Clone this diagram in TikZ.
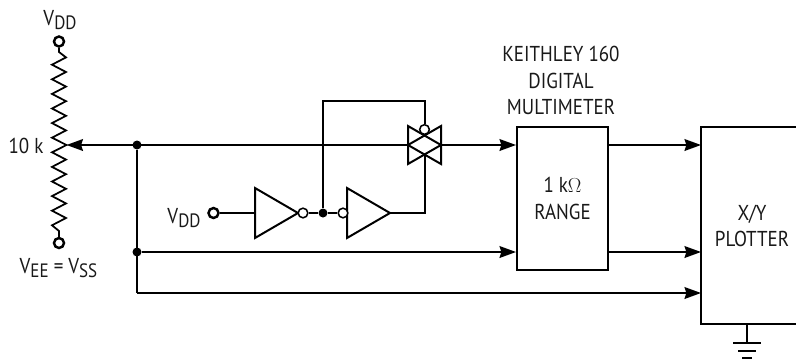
\documentclass[tikz,border=0pt]{standalone}
\usepackage{fontspec}
\setmainfont[FakeStretch=0.88]{PT Sans}
\usetikzlibrary{arrows.meta}
\newcommand{\subtxt}[1]{\raisebox{-0.32ex}{\fontsize{16.5}{17}\selectfont #1}}
\tikzset{
  wire/.style={line width=1.7pt},
  flow/.style={wire,-{Stealth[length=14pt,width=10pt,inset=1.5pt]}},
  label/.style={font=\fontsize{18.4}{22.6}\selectfont,text=black!90,inner sep=0pt,align=center},
  bubble/.style={circle,draw,line width=1.3pt,fill=white,inner sep=0pt,minimum size=0.29cm},
  terminal/.style={circle,draw,line width=2.1pt,fill=white,inner sep=0pt,minimum size=0.3cm},
  joint/.style={circle,fill=black,inner sep=0pt,minimum size=0.27cm},
  block/.style={draw,line width=1.7pt,inner sep=0pt,align=center,font=\fontsize{18.4}{22.6}\selectfont,text=black!90}
}
\begin{document}
\begin{tikzpicture}[x=0.03cm,y=-0.03cm,line join=miter]
\useasboundingbox (0,0) rectangle (796,360);
% potentiometer
\node [terminal] (vddtop) at (59,41.5) {};
\node [terminal] (vss) at (59,243) {};
\coordinate (wiper) at (66.5,145);
\draw [line width=1.5pt] (vddtop) -- (59,52) -- (66,57.4) -- (52,64.7) -- (66,72) -- (52,79.3) -- (66,86.6) -- (52,93.9) -- (66,101.2) -- (52,108.5) -- (66,115.8) -- (52,123.1) -- (66,130.4) -- (52,137.7) -- (wiper) -- (52,152.3) -- (66,159.6) -- (52,166.9) -- (66,174.2) -- (52,181.5) -- (66,188.8) -- (52,196.1) -- (66,203.4) -- (52,210.7) -- (66,218) -- (52,225.3) -- (59,231) -- (vss);
\node [label] (vddlabel) at (60,20) {V\subtxt{DD}};
\node [label] (vsslabel) at (58.5,268) {V\subtxt{EE} = V\subtxt{SS}};
\node [label] (potlabel) at (26,146) {10 k};
% junctions on the left
\node [joint] (topjoint) at (137,145) {};
\node [joint] (midjoint) at (137,252) {};
\coordinate (lowcorner) at (137,293);
% instruments
\node [block,minimum width=2.73cm,minimum height=4.29cm] (meter) at (562.5,198.5) {1 k$\Omega$\\RANGE};
\node [label] (meterlabel) at (561,80.5) {KEITHLEY 160\\DIGITAL\\MULTIMETER};
\coordinate (plotnw) at (701,127);
\coordinate (plotsw) at (701,324);
\draw [wire] (796,127) -- (plotnw) -- (plotsw) -- (796,324);
\node [label] (plotter) at (752,226) {X/Y\\PLOTTER};
% transmission gate
\coordinate (gatew) at (408,145);
\coordinate (gatee) at (441,145);
\draw [wire] (408,126) -- (gatee) -- (408,164) -- cycle;
\draw [wire] (441,126) -- (gatew) -- (441,164) -- cycle;
\coordinate (gatelow) at (424.5,154.5);
\node [bubble] (gatebub) at (424.5,129.5) {};
% inverters
\node [terminal] (vddin) at (213.5,213) {};
\node [label] (vddinlabel) at (184,218) {V\subtxt{DD}};
\draw [wire] (255,188) -- (298,213) -- (255,238) -- cycle;
\draw [wire] (347,188) -- (390,213) -- (347,238) -- cycle;
\coordinate (inva) at (255,213);
\coordinate (invb) at (390,213);
\node [bubble] (buba) at (303,213) {};
\node [bubble] (bubb) at (343,213) {};
\node [joint] (ctrl) at (323,213) {};
\coordinate (ctrltop) at (323,101);
\coordinate (gatetop) at (424.5,101);
\coordinate (invcorner) at (424.5,213);
\draw [wire] (vddin) -- (inva);
\draw [wire] (buba) -- (ctrl) -- (bubb);
\draw [wire] (ctrl) -- (ctrltop) -- (gatetop) -- (gatebub);
\draw [wire] (invb) -- (invcorner) -- (gatelow);
% signal lines
\draw [flow] (gatew) -- (wiper);
\draw [flow] (gatee) -- (meter.west |- gatee);
\draw [wire] (topjoint) -- (lowcorner);
\draw [flow] (midjoint) -- (meter.west |- midjoint);
\coordinate (outa) at (meter.east |- gatee);
\coordinate (outb) at (meter.east |- midjoint);
\draw [flow] (outa) -- (plotnw |- outa);
\draw [flow] (outb) -- (plotnw |- outb);
\draw [flow] (lowcorner) -- (plotnw |- lowcorner);
% ground
\coordinate (gndtop) at (747,324);
\coordinate (gnda) at (747,343);
\draw [wire] (gndtop) -- (gnda);
\draw [wire] (733,343) -- (761,343);
\draw [wire] (738,350.5) -- (756,350.5);
\draw [wire] (742,358) -- (752,358);
\end{tikzpicture}
\end{document}
